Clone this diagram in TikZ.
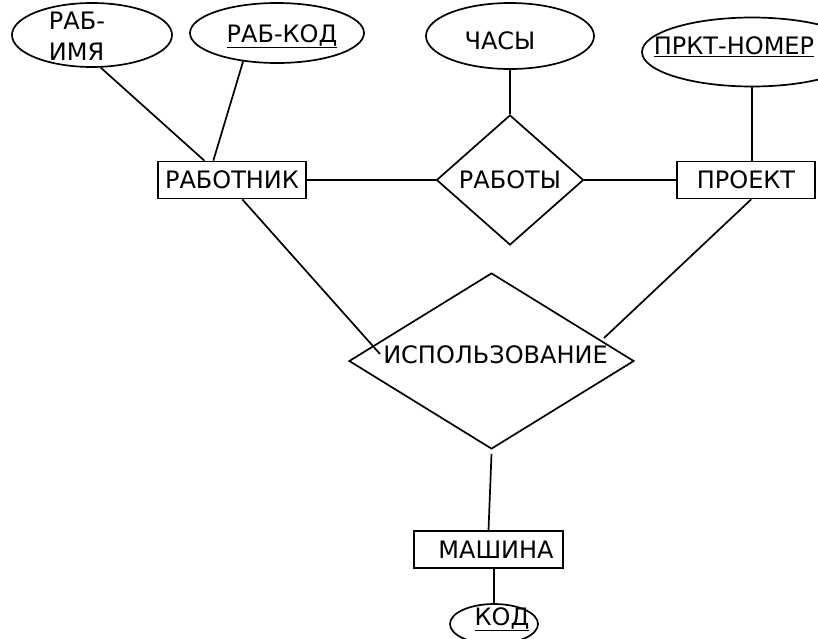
\documentclass[tikz,border=0pt]{standalone}
\usepackage{fontspec}
\setmainfont{DejaVu Sans}
\usetikzlibrary{shapes.geometric}

\begin{document}
\begin{tikzpicture}[x=1pt,y=-1pt,line width=1.7pt,
  every node/.style={font=\fontsize{24}{31}\selectfont},
  ent/.style={draw,rectangle,inner sep=0pt,minimum height=37pt},
  rel/.style={draw,diamond,inner sep=0pt},
  attr/.style={draw,ellipse,inner sep=0pt}]
  \useasboundingbox (0,0) rectangle (818,638);
  % entities
  \node[ent,minimum width=148pt] (rabotnik) at (232,180) {РАБОТНИК};
  \node[ent,minimum width=138pt] (proekt) at (746,180) {ПРОЕКТ};
  \node[ent,minimum width=149pt] (mashina) at (488.5,549.5) {\hspace{15pt}МАШИНА};
  % relationships
  \node[rel,minimum width=147pt,minimum height=130pt] (raboty) at (510,180) {РАБОТЫ};
  \node[rel,minimum width=285pt,minimum height=176pt,
    label={[xshift=4pt,yshift=6pt]center:ИСПОЛЬЗОВАНИЕ}] (ispolz) at (491.5,361) {};
  % attributes
  \node[attr,minimum width=160pt,minimum height=64pt,
    label={[align=left,xshift=-15pt,yshift=-1pt]center:РАБ-\\ИМЯ}] (rabimya) at (92,35) {};
  \node[attr,minimum width=174pt,minimum height=60pt,
    label={[xshift=5pt,yshift=-3pt]center:\underline{РАБ-КОД}}] (rabkod) at (277,33) {};
  \node[attr,minimum width=168pt,minimum height=66pt,
    label={[xshift=-10pt,yshift=-5pt]center:ЧАСЫ}] (chasy) at (510,36) {};
  \node[attr,minimum width=220pt,minimum height=69pt,
    label={[xshift=-18pt,yshift=5pt]center:\underline{ПРКТ-НОМЕР}}] (nomer) at (752,52) {};
  \node[attr,minimum width=88pt,minimum height=40pt,
    label={[xshift=8pt,yshift=5pt]center:\underline{КОД}}] (kod) at (494,624) {};
  % free ends inside the big diamond
  \coordinate (ispL) at (380,354);
  \coordinate (ispR) at (604,338);
  % links
  \draw (rabimya.-75) -- (rabotnik.145);
  \draw (rabkod.-140) -- (rabotnik.134);
  \draw (rabotnik.east) -- (raboty.west);
  \draw (raboty.east) -- (proekt.west);
  \draw (chasy.south) -- (raboty.north);
  \draw (nomer.south) -- (nomer.south |- proekt.north);
  \draw (rabotnik.-62) -- (ispL);
  \draw (proekt.-75) -- (ispR);
  \draw (ispolz.south) ++(0,4) -- (mashina.north);
  \draw (mashina.south -| kod.north) -- (kod.north);
\end{tikzpicture}
\end{document}
